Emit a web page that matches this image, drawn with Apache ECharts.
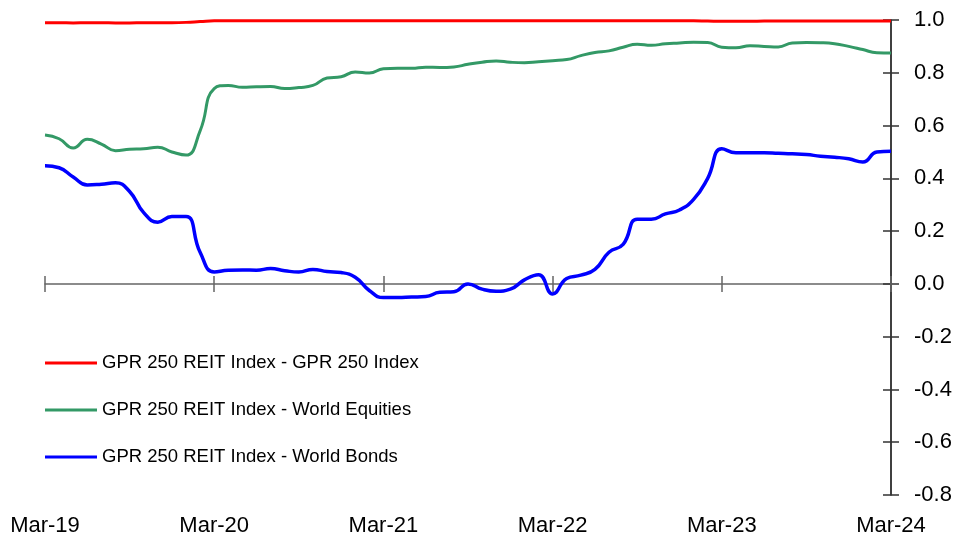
<!DOCTYPE html>
<html>
<head>
<meta charset="utf-8">
<script src="https://cdn.jsdelivr.net/npm/echarts@6/dist/echarts.min.js"></script>
<style>
  html, body { margin: 0; padding: 0; background: #fff; }
  #chart { width: 961px; height: 543px; }
</style>
</head>
<body>
<div id="chart"></div>
<script>
// monthly observations, Mar-19 .. Mar-24
var monthNames = ['Jan','Feb','Mar','Apr','May','Jun','Jul','Aug','Sep','Oct','Nov','Dec'];
var months = [];
for (var i = 0; i < 61; i++) {
  var m = (2 + i) % 12, y = 19 + Math.floor((2 + i) / 12);
  months.push(monthNames[m] + '-' + y);
}

var seriesNames = [
  'GPR 250 REIT Index - GPR 250 Index',
  'GPR 250 REIT Index - World Equities',
  'GPR 250 REIT Index - World Bonds'
];

var vsGpr250 = [
  0.990, 0.990, 0.989, 0.990, 0.990, 0.989, 0.989, 0.990, 0.990, 0.990,
  0.991, 0.994, 0.997, 0.997, 0.997, 0.997, 0.997, 0.997, 0.997, 0.997,
  0.997, 0.997, 0.997, 0.997, 0.997, 0.997, 0.997, 0.997, 0.997, 0.997,
  0.997, 0.997, 0.997, 0.997, 0.997, 0.997, 0.997, 0.997, 0.997, 0.997,
  0.997, 0.997, 0.997, 0.997, 0.997, 0.997, 0.997, 0.996, 0.995, 0.995,
  0.995, 0.996, 0.996, 0.996, 0.996, 0.996, 0.996, 0.996, 0.996, 0.996,
  0.996
];

var vsEquities = [
  0.564, 0.550, 0.515, 0.548, 0.530, 0.505, 0.510, 0.512, 0.518, 0.500,
  0.488, 0.580, 0.740, 0.752, 0.745, 0.747, 0.748, 0.740, 0.744, 0.752,
  0.780, 0.785, 0.803, 0.799, 0.815, 0.817, 0.817, 0.821, 0.820, 0.822,
  0.832, 0.840, 0.845, 0.840, 0.838, 0.842, 0.846, 0.850, 0.865, 0.877,
  0.883, 0.897, 0.908, 0.904, 0.910, 0.913, 0.916, 0.915, 0.897, 0.895,
  0.902, 0.900, 0.898, 0.913, 0.915, 0.914, 0.910, 0.900, 0.888, 0.876,
  0.875
];

var vsBonds = [
  0.448, 0.440, 0.405, 0.375, 0.378, 0.383, 0.350, 0.270, 0.234, 0.255,
  0.255, 0.120, 0.045, 0.052, 0.053, 0.052, 0.058, 0.050, 0.045, 0.055,
  0.047, 0.043, 0.025, -0.025, -0.052, -0.052, -0.050, -0.048, -0.032, -0.030,
  0.000, -0.020, -0.028, -0.020, 0.015, 0.035, -0.038, 0.020, 0.033, 0.055,
  0.120, 0.150, 0.245, 0.245, 0.265, 0.280, 0.320, 0.400, 0.512, 0.497,
  0.497, 0.497, 0.495, 0.493, 0.490, 0.484, 0.480, 0.474, 0.462, 0.500,
  0.503
];

var colors = ['#ff0000', '#339966', '#0000ff'];
var font = '"Liberation Sans", Arial, sans-serif';

var chart = echarts.init(document.getElementById('chart'));

// x axis drawn twice at zero (ticks down / ticks up), once more at the bottom for labels
var xBase = { type: 'category', data: months, boundaryGap: false };

chart.setOption({
  animation: false,
  color: colors,
  grid: { left: 45, right: 70, top: 20, bottom: 48 },
  legend: {
    orient: 'vertical',
    left: 45,
    top: 351,
    padding: 0,
    icon: 'rect',
    itemWidth: 52,
    itemHeight: 3,
    itemGap: 23,
    textStyle: { fontFamily: font, fontSize: 18.5, color: '#000', lineHeight: 24 },
    data: seriesNames
  },
  xAxis: [
    Object.assign({}, xBase, {
      position: 'bottom',
      axisLine: { onZero: true, lineStyle: { color: '#666', width: 1.5 } },
      axisTick: { interval: 11, length: 8, lineStyle: { color: '#666', width: 1.5 } },
      axisLabel: { show: false },
      splitLine: { show: false }
    }),
    Object.assign({}, xBase, {
      position: 'top',
      axisLine: { onZero: true, show: false },
      axisTick: { interval: 11, length: 8, lineStyle: { color: '#666', width: 1.5 } },
      axisLabel: { show: false },
      splitLine: { show: false }
    }),
    Object.assign({}, xBase, {
      position: 'bottom',
      axisLine: { show: false, onZero: false },
      axisTick: { show: false },
      axisLabel: { interval: 11, margin: 20, fontFamily: font, fontSize: 22, color: '#000' },
      splitLine: { show: false }
    })
  ],
  yAxis: [
    {
      type: 'value', position: 'right', min: -0.8, max: 1.0, interval: 0.2,
      axisLine: { show: true, lineStyle: { color: '#000', width: 1.5 } },
      axisTick: { show: true, length: 8, lineStyle: { color: '#333', width: 1.5 } },
      axisLabel: { margin: 23, fontFamily: font, fontSize: 22, color: '#000',
        formatter: function (v) { return v.toFixed(1); } },
      splitLine: { show: false }
    },
    {
      type: 'value', position: 'right', min: -0.8, max: 1.0, interval: 0.2,
      axisLine: { show: false },
      axisTick: { show: true, inside: true, length: 8, lineStyle: { color: '#333', width: 1.5 } },
      axisLabel: { show: false },
      splitLine: { show: false }
    }
  ],
  series: [
    { name: seriesNames[0], type: 'line', data: vsGpr250, smooth: 0.5, showSymbol: false,
      lineStyle: { width: 3, color: colors[0] } },
    { name: seriesNames[1], type: 'line', data: vsEquities, smooth: 0.5, showSymbol: false,
      lineStyle: { width: 3, color: colors[1] } },
    { name: seriesNames[2], type: 'line', data: vsBonds, smooth: 0.5, showSymbol: false,
      lineStyle: { width: 3.5, color: colors[2] } }
  ]
});
</script>
</body>
</html>
